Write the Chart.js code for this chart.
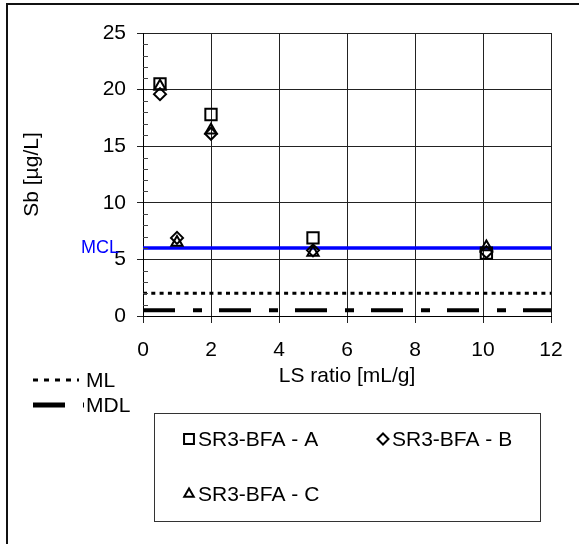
<!DOCTYPE html>
<html lang="en">
<head>
<meta charset="UTF-8">
<title>Sb vs LS ratio</title>
<script src="https://cdn.jsdelivr.net/npm/chart.js@4/dist/chart.umd.min.js"></script>
<style>
  html, body { margin: 0; padding: 0; background: #fff; }
  #wrap  { position: relative; width: 579px; height: 544px; overflow: hidden; }
  #frame { position: absolute; left: 6px; top: 3px; width: 600px; height: 600px;
           border-top: 2px solid #111; border-left: 2px solid #111; }
  canvas { position: absolute; left: 0; top: 0; }
</style>
</head>
<body>
<div id="wrap">
  <div id="frame"></div>
  <canvas id="c" width="579" height="544"></canvas>
</div>
<script>
// ── Data ──────────────────────────────────────────────────────────────────────
const xA = [0.5, 2, 5, 10.1];
const yA = [20.5, 17.8, 6.9, 5.55];
const xB = [0.5, 1, 2, 5, 10.1];
const yB = [19.6, 6.9, 16.1, 5.8, 5.65];
const xC = [0.5, 1, 2, 5, 10.1];
const yC = [20.3, 6.5, 16.4, 5.6, 6.1];

const MCL = 6;     // µg/L
const ML = 2;
const MDL = 0.5;
const xRange = [0, 12];
const yRange = [0, 25];

const FONT = "'Liberation Sans', Arial, sans-serif";
const FS = 21;
const pts = (xs, ys) => xs.map((x, i) => ({ x, y: ys[i] }));
const hline = (v) => xRange.map((x) => ({ x, y: v }));

const series = [
  { label: 'SR3-BFA - A', data: pts(xA, yA), pointStyle: 'rect', pointRadius: 8 },
  { label: 'SR3-BFA - B', data: pts(xB, yB), pointStyle: 'rectRot', pointRadius: 6 },
  { label: 'SR3-BFA - C', data: pts(xC, yC), pointStyle: 'triangle', pointRadius: 6.5 },
];

// ── Marker helper for the custom legend ──────────────────────────────────────
function marker(ctx, style, r, x, y) {
  ctx.beginPath();
  if (style === 'rect') {
    const s = r * Math.SQRT1_2;
    ctx.rect(x - s, y - s, 2 * s, 2 * s);
  } else if (style === 'rectRot') {
    ctx.moveTo(x, y - r); ctx.lineTo(x + r, y); ctx.lineTo(x, y + r); ctx.lineTo(x - r, y);
    ctx.closePath();
  } else {
    ctx.moveTo(x, y - r);
    ctx.lineTo(x + r * Math.sin(2 * Math.PI / 3), y - r * Math.cos(2 * Math.PI / 3));
    ctx.lineTo(x + r * Math.sin(4 * Math.PI / 3), y - r * Math.cos(4 * Math.PI / 3));
    ctx.closePath();
  }
  ctx.stroke();
}

// ── Extras: minor y ticks, MCL label, legends ────────────────────────────────
const extras = {
  id: 'extras',
  afterDraw(chart) {
    const { ctx, scales: { x, y } } = chart;
    ctx.save();

    // minor ticks on the inside of the y axis
    ctx.strokeStyle = '#444';
    ctx.lineWidth = 1;
    for (let v = yRange[0] + 1; v < yRange[1]; v++) {
      if (v % 5 === 0) continue;
      const py = Math.round(y.getPixelForValue(v)) + 0.5;
      ctx.beginPath(); ctx.moveTo(x.left, py); ctx.lineTo(x.left + 5, py); ctx.stroke();
    }

    // MCL label
    ctx.fillStyle = '#0000ff';
    ctx.font = `18px ${FONT}`;
    ctx.textAlign = 'right';
    ctx.textBaseline = 'middle';
    ctx.fillText('MCL', 119, y.getPixelForValue(MCL));

    // ML / MDL legend
    ctx.textAlign = 'left';
    ctx.fillStyle = '#000';
    ctx.font = `${FS}px ${FONT}`;
    ctx.strokeStyle = '#000';
    ctx.lineCap = 'butt';
    ctx.lineWidth = 3;
    ctx.setLineDash([5, 6]);
    ctx.beginPath(); ctx.moveTo(33, 380); ctx.lineTo(79, 380); ctx.stroke();
    ctx.fillText('ML', 86, 381);
    ctx.lineWidth = 5;
    ctx.setLineDash([32, 18, 9, 17]);
    ctx.beginPath(); ctx.moveTo(33, 405); ctx.lineTo(84, 405); ctx.stroke();
    ctx.setLineDash([]);
    ctx.fillText('MDL', 86, 406);

    // series legend box
    ctx.lineWidth = 1;
    ctx.strokeStyle = '#333';
    ctx.strokeRect(154.5, 413.5, 386, 108);
    const slots = [[189, 439], [383, 439], [189, 494]];
    ctx.strokeStyle = '#000';
    ctx.lineWidth = 2;
    series.forEach((s, i) => {
      const [mx, my] = slots[i];
      marker(ctx, s.pointStyle, s.pointStyle === 'rect' ? 7 : 5.5, mx, my);
      ctx.fillText(s.label, mx + 9, my + 1);
    });
    ctx.restore();
  },
};

// ── Chart ────────────────────────────────────────────────────────────────────
new Chart(document.getElementById('c'), {
  type: 'scatter',
  data: {
    datasets: [
      ...series.map((s) => ({
        ...s,
        borderColor: '#000',
        backgroundColor: 'rgba(0,0,0,0)',
        borderWidth: 2,
        order: 1,
      })),
      { label: 'MCL', data: hline(MCL), showLine: true, borderColor: '#0000ff',
        borderWidth: 3.5, pointRadius: 0, order: 5 },
      { label: 'ML', data: hline(ML), showLine: true, borderColor: '#000',
        borderWidth: 3, borderDash: [4, 4.3], pointRadius: 0, order: 5 },
      { label: 'MDL', data: hline(MDL), showLine: true, borderColor: '#000',
        borderWidth: 4, borderDash: [32, 18, 9, 17], pointRadius: 0, order: 5 },
    ],
  },
  options: {
    responsive: false,
    devicePixelRatio: 1,
    animation: false,
    layout: { padding: { left: 0, top: 33, right: 28, bottom: 155 } },
    plugins: { legend: { display: false }, tooltip: { enabled: false } },
    scales: {
      x: {
        type: 'linear', min: xRange[0], max: xRange[1],
        ticks: { stepSize: 2, color: '#000', font: { family: FONT, size: FS }, padding: 15, maxRotation: 0 },
        grid: { color: '#222', tickLength: 7 },
        border: { color: '#000' },
        title: { display: true, text: 'LS ratio [mL/g]', color: '#000',
                 font: { family: FONT, size: FS }, padding: { top: 0, bottom: 0 } },
        afterFit: (s) => { s.height = 73; },
      },
      y: {
        min: yRange[0], max: yRange[1],
        ticks: { stepSize: 5, color: '#000', font: { family: FONT, size: FS }, padding: 11 },
        grid: { color: '#222', tickLength: 6 },
        border: { color: '#000' },
        title: { display: true, text: 'Sb [µg/L]', color: '#000',
                 font: { family: FONT, size: FS }, padding: { top: 20, bottom: 0 } },
        afterFit: (s) => { s.width = 143; },
      },
    },
  },
  plugins: [extras],
});
</script>
</body>
</html>
